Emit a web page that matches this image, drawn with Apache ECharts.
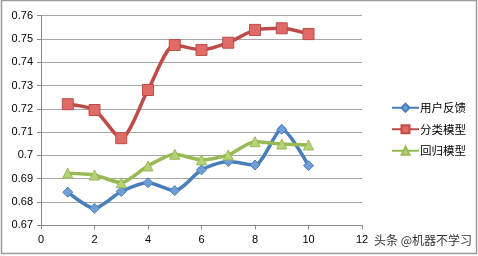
<!DOCTYPE html>
<html><head><meta charset="utf-8">
<script src="https://cdn.jsdelivr.net/npm/echarts@6/dist/echarts.min.js"></script>
<style>html,body{margin:0;padding:0;background:#fff}#c{width:478px;height:256px}</style>
</head><body><div id="c"></div>
<script>
const xs = [1,2,3,4,5,6,7,8,9,10];
const userFeedback = [0.6842,0.6773,0.6845,0.6883,0.6849,0.6938,0.6974,0.6959,0.7112,0.6956];
const classModel = [0.7220,0.7195,0.7074,0.7281,0.7474,0.7453,0.7484,0.7539,0.7546,0.7521];
const regressModel = [0.6924,0.6916,0.6883,0.6955,0.7005,0.6981,0.7002,0.7059,0.7049,0.7045];
const seriesNames = ['用户反馈','分类模型','回归模型'];
const yTicks = [0.67,0.68,0.69,0.7,0.71,0.72,0.73,0.74,0.75,0.76];
const xTicks = [0,2,4,6,8,10,12];

const pair = arr => xs.map((x,i)=>[x,arr[i]]);
const font = 'Liberation Sans, Arial, sans-serif';
const chart = echarts.init(document.getElementById('c'), null, {renderer:'canvas'});
function mk(name, data, color, fill, symbol, size){
  return {name, type:'line', data:pair(data), smooth:0.25, symbol, symbolSize:size,
    lineStyle:{color, width:3.5}, itemStyle:{color:fill, borderColor:color, borderWidth:1},
    emphasis:{disabled:true}};
}
chart.setOption({
  animation:false,
  grid:{left:41, right:116, top:15.7, bottom:30.7, containLabel:false},
  xAxis:{type:'value', min:0, max:12, interval:2,
    axisLine:{show:true, lineStyle:{color:'#888', width:1}},
    axisTick:{show:true, length:4, lineStyle:{color:'#888'}},
    splitLine:{show:false},
    axisLabel:{color:'#000', fontSize:11, fontFamily:font, margin:9,
      formatter:v=>xTicks.includes(v)?String(v):''}},
  yAxis:{type:'value', min:0.67, max:0.76, interval:0.01,
    axisLine:{show:true, lineStyle:{color:'#888', width:1}},
    axisTick:{show:true, length:4, lineStyle:{color:'#888'}},
    splitLine:{show:true, lineStyle:{color:'#a6a6a6', width:1}},
    axisLabel:{color:'#000', fontSize:11, fontFamily:font, margin:8,
      formatter:v=>{const t=yTicks.find(k=>Math.abs(k-v)<1e-6);return t===undefined?'':String(t);}}},
  legend:{orient:'vertical', left:386, top:97, itemGap:10, itemWidth:27, itemHeight:10,
    data:seriesNames,
    textStyle:{fontSize:11.5, color:'#000', fontFamily:'Noto Sans CJK SC', padding:[0,0,0,-4]}},
  series:[
    mk(seriesNames[0], userFeedback, '#4a7ebb', '#6f9dd6', 'diamond', 10),
    mk(seriesNames[1], classModel, '#be4b48', '#e06a66', 'rect', 11),
    mk(seriesNames[2], regressModel, '#98b954', '#b5d277', 'triangle', 10)
  ],
  graphic:[
    {type:'rect', shape:{x:1.5,y:0.5,width:475,height:253}, style:{fill:'none', stroke:'#9a9a9a', lineWidth:1.5}},
    {type:'text', left:374, top:234, style:{text:'头条 @机器不学习', fontSize:12, fill:'#333', fontFamily:'Noto Sans CJK SC'}}
  ]
});
</script></body></html>
